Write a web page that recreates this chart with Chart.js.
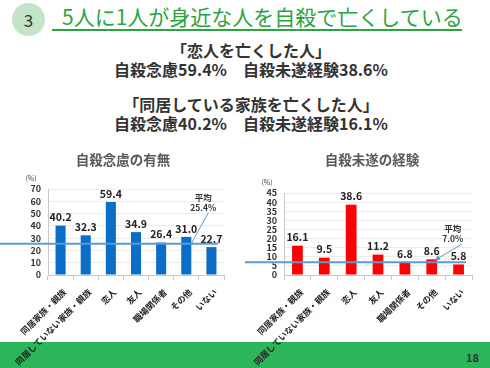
<!DOCTYPE html>
<html>
<head>
<meta charset="utf-8">
<script src="https://cdn.jsdelivr.net/npm/chart.js@4"></script>
<style>
  body { margin: 0; width: 490px; height: 368px; overflow: hidden; background: #fff; position: relative;
         font-family: "Noto Sans CJK JP", "Noto Sans", sans-serif; }
  #badge { position: absolute; left: 12px; top: 3px; width: 33px; height: 33px; border-radius: 50%;
           background: #c4e4c9; color: #333; font-size: 17px; line-height: 33px; text-align: center; }
  #heading { position: absolute; left: 52px; top: 3px; width: 410px; color: #2ba53f; font-size: 21px;
             line-height: 26px; padding-left: 10px; box-sizing: border-box; border-bottom: 2px solid #2ba53f; white-space: nowrap; }
  .sub { position: absolute; left: 0; width: 502px; text-align: center; color: #333; font-weight: bold;
         font-size: 16px; line-height: 19px; white-space: nowrap; }
  #footer { position: absolute; left: 0; top: 342px; width: 490px; height: 26px; background: #2db55b; }
  #pageno { position: absolute; left: 466px; top: 349px; font-size: 11px; font-weight: bold; color: #333; }
  .box { position: absolute; top: 150px; width: 245px; height: 218px; }
</style>
</head>
<body>
<div id="badge">3</div>
<div id="heading">5人に1人が身近な人を自殺で亡くしている</div>
<div class="sub" style="top:41px">「恋人を亡くした人」<br>自殺念慮59.4%　自殺未遂経験38.6%</div>
<div class="sub" style="top:95px">「同居している家族を亡くした人」<br>自殺念慮40.2%　自殺未遂経験16.1%</div>
<div id="footer"></div>
<div id="pageno">18</div>
<div class="box" style="left:0"><canvas id="c1" width="245" height="218"></canvas></div>
<div class="box" style="left:245px"><canvas id="c2" width="245" height="218"></canvas></div>
<script>
const categories = ["同居家族・親族", "同居していない家族・親族", "恋人", "友人", "職場関係者", "その他", "いない"];
const ideationValues = [40.2, 32.3, 59.4, 34.9, 26.4, 31.0, 22.7];
const attemptValues = [16.1, 9.5, 38.6, 11.2, 6.8, 8.6, 5.8];
const ideationAverage = 25.4;
const attemptAverage = 7.0;

const FONT = '"Noto Sans CJK JP", "Noto Sans", sans-serif';

// chart title, value labels, average line and callout
const overlay = {
  id: "overlay",
  afterDatasetsDraw(chart, args, opts) {
    const ctx = chart.ctx;
    const x = chart.scales.x, y = chart.scales.y;
    const area = chart.chartArea;
    const meta = chart.getDatasetMeta(0);
    ctx.save();
    ctx.textAlign = "center";
    ctx.textBaseline = "middle";
    ctx.fillStyle = "#595959";
    ctx.font = "bold 13.5px " + FONT;
    ctx.fillText(opts.title, opts.titleX, 10);

    ctx.fillStyle = "#222";
    ctx.font = "bold 10.5px " + FONT;
    ctx.textBaseline = "bottom";
    meta.data.forEach((bar, i) => {
      ctx.fillText(chart.data.datasets[0].data[i].toFixed(1), bar.x, bar.y - 3);
    });
    // (%) unit
    ctx.font = "7px " + FONT;
    ctx.fillStyle = "#444";
    ctx.fillText("(%)", area.left - 17, area.top - 7);

    // average line
    const ya = y.getPixelForValue(opts.avg);
    ctx.strokeStyle = "#5b9bd5";
    ctx.lineWidth = 2;
    ctx.beginPath();
    ctx.moveTo(0, ya);
    ctx.lineTo(area.right - 6, ya);
    ctx.stroke();

    // callout
    const bx = x.getPixelForValue(5);
    const ex = bx + opts.end[0], ey = ya + opts.end[1];
    const sx = bx + opts.start[0], sy = ya + opts.start[1];
    ctx.lineWidth = 1;
    ctx.beginPath();
    ctx.moveTo(sx, sy);
    ctx.lineTo(ex, ey);
    ctx.stroke();
    if (opts.arrow) {
      const ang = Math.atan2(ey - sy, ex - sx);
      ctx.fillStyle = "#5b9bd5";
      ctx.beginPath();
      ctx.moveTo(ex, ey);
      ctx.lineTo(ex - 6 * Math.cos(ang - 0.45), ey - 6 * Math.sin(ang - 0.45));
      ctx.lineTo(ex - 6 * Math.cos(ang + 0.45), ey - 6 * Math.sin(ang + 0.45));
      ctx.closePath();
      ctx.fill();
    }
    ctx.fillStyle = "#333";
    ctx.font = "bold 8.5px " + FONT;
    ctx.textBaseline = "middle";
    ctx.fillText("平均", bx + opts.text[0], ya + opts.text[1]);
    ctx.fillText(opts.avg.toFixed(1) + "%", bx + opts.text[0], ya + opts.text[1] + 10);
    ctx.restore();
  }
};

function makeChart(id, title, values, color, max, step, yWidth, rightPad, callout) {
  new Chart(document.getElementById(id), {
    type: "bar",
    data: {
      labels: categories,
      datasets: [{ data: values, backgroundColor: color, barPercentage: 0.8, categoryPercentage: 0.5 }]
    },
    options: {
      responsive: false,
      animation: false,
      layout: { padding: { left: 0, right: rightPad, top: callout.top, bottom: 0 } },
      plugins: {
        legend: { display: false },
        tooltip: { enabled: false },
        title: { display: false },
        overlay: Object.assign({ title: title }, callout)
      },
      scales: {
        x: {
          afterFit: (s) => { s.height = 93; },
          grid: { drawOnChartArea: false, tickLength: 5, color: "#c8c8c8" },
          border: { color: "#c8c8c8" },
          ticks: { minRotation: 45, maxRotation: 45, padding: 7, labelOffset: 4, color: "#222", font: { family: FONT, size: 8.6, weight: "bold" } }
        },
        y: {
          min: 0, max: max,
          afterFit: (s) => { s.width = yWidth; },
          grid: { color: "#ececec", drawTicks: false },
          border: { color: "#c8c8c8" },
          ticks: { stepSize: step, autoSkip: false, padding: 7, color: "#333", font: { family: FONT, size: 9, weight: "bold" } }
        }
      }
    },
    plugins: [overlay]
  });
}

makeChart("c1", "自殺念慮の有無", ideationValues, "#0a6dc8", 70, 10, 48, 21,
  { avg: ideationAverage, start: [22, -31], end: [5, 0], text: [17, -46], arrow: false, top: 39, titleX: 123 });
makeChart("c2", "自殺未遂の経験", attemptValues, "#ff0000", 45, 5, 39, 18,
  { avg: attemptAverage, start: [30, -18], end: [3, -2], text: [21, -33], arrow: true, top: 43, titleX: 127 });
</script>
</body>
</html>
